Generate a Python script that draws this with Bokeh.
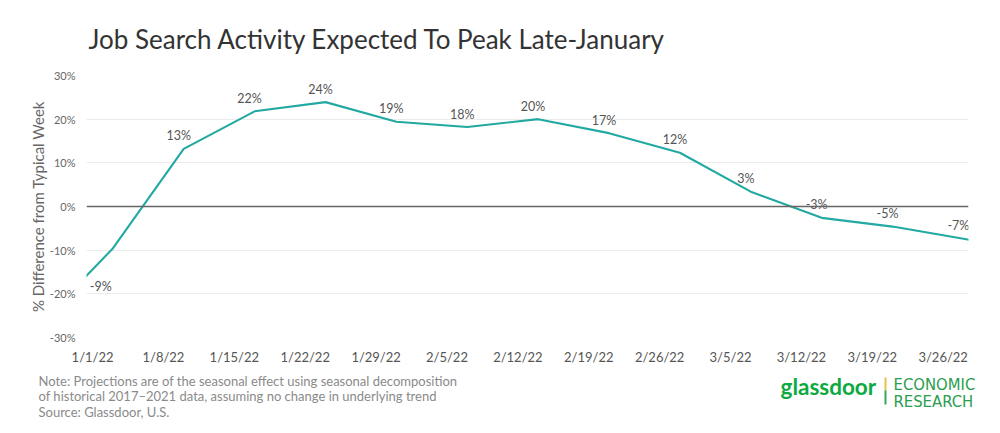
import pandas as pd
from bokeh.plotting import figure
from bokeh.layouts import column, row
from bokeh.models import Range1d, FixedTicker, PrintfTickFormatter, Span, ColumnDataSource
from bokeh.core.properties import value
from bokeh.embed import file_html
from bokeh.resources import INLINE

# ---------------- data ----------------
chart_title = "Job Search Activity Expected To Peak Late-January"
y_axis_title = "% Difference from Typical Week"

week_dates = ["2021-12-27", "2022-01-03", "2022-01-10", "2022-01-17", "2022-01-24",
              "2022-01-31", "2022-02-07", "2022-02-14", "2022-02-21", "2022-02-28",
              "2022-03-07", "2022-03-14", "2022-03-21", "2022-03-28", "2022-04-04"]
pct_diff = [-26.5, -9.6, 13.2, 21.8, 23.9, 19.4, 18.2, 20.0, 16.8, 12.3, 3.4, -2.6, -4.6, -7.4, -10.2]

label_dates = week_dates[1:14]
label_values = pct_diff[1:14]
label_texts = ["-9%", "13%", "22%", "24%", "19%", "18%", "20%", "17%", "12%", "3%", "-3%", "-5%", "-7%"]

tick_dates = ["2022-01-01", "2022-01-08", "2022-01-15", "2022-01-22", "2022-01-29",
              "2022-02-05", "2022-02-12", "2022-02-19", "2022-02-26", "2022-03-05",
              "2022-03-12", "2022-03-19", "2022-03-26"]
tick_labels = ["1/1/22", "1/8/22", "1/15/22", "1/22/22", "1/29/22", "2/5/22", "2/12/22",
               "2/19/22", "2/26/22", "3/5/22", "3/12/22", "3/19/22", "3/26/22"]
y_ticks = [-30, -20, -10, 0, 10, 20, 30]

notes = ["Note: Projections are of the seasonal effect using seasonal decomposition",
         "of historical 2017\u20132021 data, assuming no change in underlying trend",
         "Source: Glassdoor, U.S."]
brand = "glassdoor"
unit_lines = ["ECONOMIC", "RESEARCH"]

# ---------------- helpers ----------------
base = pd.Timestamp("2022-01-01")
def day(d):
    return (pd.Timestamp(d) - base).days

x_days = [day(d) for d in week_dates]
lx = [day(d) for d in label_dates]
ticks = [day(d) for d in tick_dates]

FONT = value("Lato")
TEAL = "#22a9a1"
W = 990
FRAME_L, FRAME_R = 86, 968
TOP_H, MAIN_H, FOOT_H = 60, 310, 55


def blank(height, y0):
    """figure used only as a text canvas; x and y are page pixels (y grows downward)"""
    f = figure(width=W, height=height, output_backend="svg", toolbar_location=None,
               x_range=Range1d(0, W), y_range=Range1d(y0 + height, y0),
               x_axis_location=None, y_axis_location=None,
               min_border_left=0, min_border_right=0,
               min_border_top=0, min_border_bottom=0)
    f.grid.visible = False
    f.outline_line_color = None
    f.background_fill_color = "white"
    f.border_fill_color = "white"
    return f


def txt(f, s, x, y, size, color, font=value("Lato"), style="normal", align="left"):
    f.text(x=[x], y=[y], text=[s], text_font=font, text_font_size=size,
           text_color=color, text_font_style=style, text_align=align, text_baseline="middle")


# ---------------- title ----------------
top = blank(TOP_H, 0)
txt(top, chart_title, 88, 38, "26px", "#333333")

# ---------------- main chart ----------------
p = figure(width=W, height=MAIN_H, output_backend="svg", toolbar_location=None,
           x_range=Range1d(-0.6, 86.5), y_range=Range1d(-30, 30),
           min_border_left=FRAME_L, min_border_right=W - FRAME_R, min_border_top=75 - TOP_H,
           min_border_bottom=TOP_H + MAIN_H - 337)
p.outline_line_color = None
p.background_fill_color = "white"
p.border_fill_color = "white"

p.xgrid.grid_line_color = None
p.ygrid.grid_line_color = "#ebebeb"
p.ygrid.grid_line_width = 1
p.ygrid.ticker = FixedTicker(ticks=y_ticks)

p.xaxis.ticker = FixedTicker(ticks=ticks)
p.xaxis.major_label_overrides = {t: l for t, l in zip(ticks, tick_labels)}
p.xaxis.axis_line_color = None
p.xaxis.major_tick_line_color = None
p.xaxis.minor_tick_line_color = None
p.xaxis.major_label_text_font = "Lato"
p.xaxis.major_label_text_font_size = "13px"
p.xaxis.major_label_text_color = "#555555"
p.xaxis.major_label_standoff = 5

p.yaxis.ticker = FixedTicker(ticks=y_ticks)
p.yaxis.formatter = PrintfTickFormatter(format="%d%%")
p.yaxis.axis_line_color = None
p.yaxis.major_tick_line_color = None
p.yaxis.minor_tick_line_color = None
p.yaxis.major_label_text_font = "Lato"
p.yaxis.major_label_text_font_size = "11px"
p.yaxis.major_label_text_color = "#666666"
p.yaxis.major_label_standoff = 5
p.yaxis.axis_label = y_axis_title
p.yaxis.axis_label_text_font = "Lato"
p.yaxis.axis_label_text_font_style = "normal"
p.yaxis.axis_label_text_font_size = "15px"
p.yaxis.axis_label_text_color = "#666666"
p.yaxis.axis_label_standoff = 0

p.add_layout(Span(location=0, dimension="width", line_color="#666666", line_width=1.3))

src = ColumnDataSource(dict(x=x_days, y=pct_diff))
p.line("x", "y", source=src, line_color=TEAL, line_width=2.1)

lsrc = ColumnDataSource(dict(x=lx[1:], y=label_values[1:], t=label_texts[1:]))
p.text("x", "y", text="t", source=lsrc, text_font=FONT, text_font_size="12.5px",
       text_color="#555555", text_align="center", text_baseline="middle",
       x_offset=-5, y_offset=-13)
fsrc = ColumnDataSource(dict(x=lx[:1], y=label_values[:1], t=label_texts[:1]))
p.text("x", "y", text="t", source=fsrc, text_font=FONT, text_font_size="12.5px",
       text_color="#555555", text_align="center", text_baseline="middle",
       x_offset=-12, y_offset=38)

# ---------------- footer ----------------
foot = blank(FOOT_H, TOP_H + MAIN_H)
for i, n in enumerate(notes):
    txt(foot, n, 38, 380 + i * 15.7, "13px", "#8a8a8a")
txt(foot, brand, 780, 386, "22.5px", "#0caa41", style="bold")
foot.segment(x0=[885], y0=[377], x1=[885], y1=[390], line_color="#e5c04a", line_width=2)
foot.segment(x0=[885], y0=[390], x1=[885], y1=[404], line_color="#3aa85a", line_width=2)
cond = value("'DejaVu Sans Condensed', 'Liberation Sans Narrow', Roboto, sans-serif")
txt(foot, unit_lines[0], 893, 384, "16.5px", "#2a9d4f", font=cond)
txt(foot, unit_lines[1], 893, 401, "16.5px", "#2a9d4f", font=cond)

layout = column(row(top), p, row(foot), spacing=0)
open("out.html", "w").write(file_html(layout, INLINE))
